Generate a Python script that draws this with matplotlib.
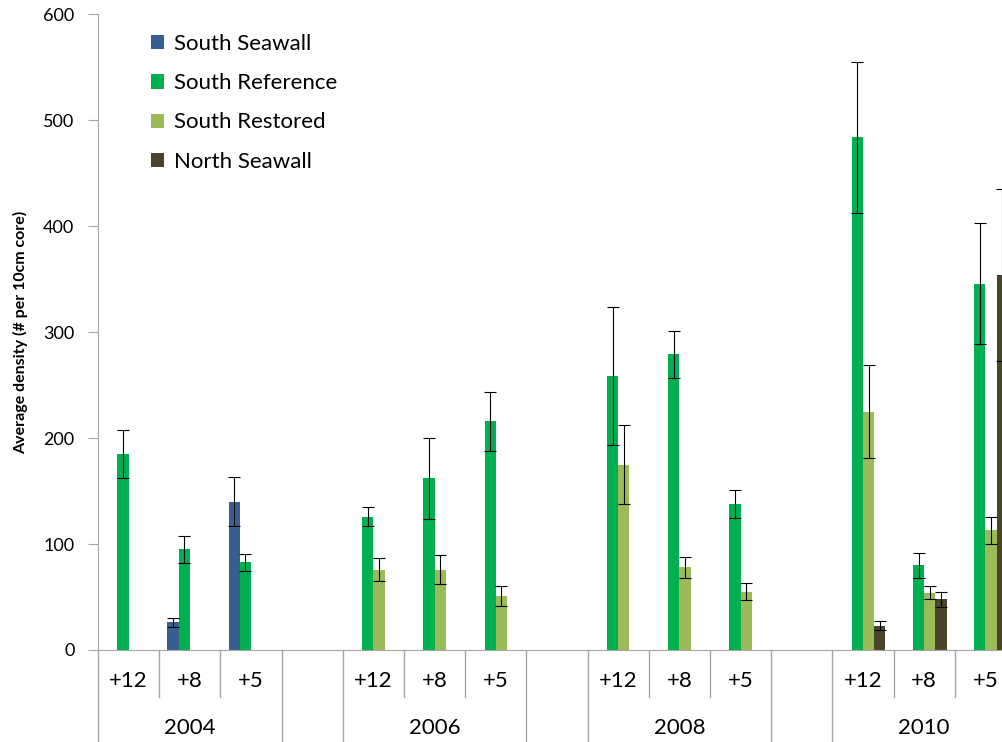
import matplotlib.pyplot as plt
import numpy as np

plt.rcParams['font.family'] = ['Lato', 'DejaVu Sans']

years = ['2004', '2006', '2008', '2010']
depths = ['+12', '+8', '+5']

nan = np.nan
# values per year x depth (2004 +12, +8, +5, 2006 +12, ...)
south_seawall = [nan, 26, 140, nan, nan, nan, nan, nan, nan, nan, nan, nan]
south_seawall_err = [nan, 4, 23, nan, nan, nan, nan, nan, nan, nan, nan, nan]
south_reference = [185, 95, 83, 126, 162, 216, 259, 279, 138, 484, 80, 346]
south_reference_err = [23, 13, 8, 9, 38, 28, 65, 22, 13, 71, 12, 57]
south_restored = [nan, nan, nan, 76, 76, 51, 175, 78, 55, 225, 54, 113]
south_restored_err = [nan, nan, nan, 11, 14, 9, 37, 10, 8, 44, 6, 13]
north_seawall = [nan, nan, nan, nan, nan, nan, nan, nan, nan, 23, 48, 354]
north_seawall_err = [nan, nan, nan, nan, nan, nan, nan, nan, nan, 4, 7, 81]

series = [
    ('South Seawall', south_seawall, south_seawall_err, '#376092'),
    ('South Reference', south_reference, south_reference_err, '#00B050'),
    ('South Restored', south_restored, south_restored_err, '#9BBB59'),
    ('North Seawall', north_seawall, north_seawall_err, '#4A452A'),
]

# category positions: 3 depths per year, one empty slot between years
pos = []
for g in range(len(years)):
    for d in range(len(depths)):
        pos.append(g * 4 + d)
pos = np.array(pos, dtype=float)
ncat = len(years) * 4 - 1

W, H = 1003, 742
fig = plt.figure(figsize=(W / 100, H / 100), dpi=100)
left, right, bottom, top = 98, 98 + ncat * 61.2, 650, 14.5
ax = fig.add_axes([left / W, 1 - bottom / H, (right - left) / W, (bottom - top) / H])

bw = 0.183
for i, (name, vals, errs, col) in enumerate(series):
    x = pos + (i - 1.5) * bw
    ax.bar(x, vals, width=bw, color=col, label=name, edgecolor='none')
    ax.errorbar(x, vals, yerr=errs, fmt='none', ecolor='black', elinewidth=0.8,
                capsize=4, capthick=0.8)

ax.set_xlim(-0.5, ncat - 0.5)
ax.set_ylim(0, 600)
ax.set_yticks(range(0, 601, 100))
ax.tick_params(axis='y', direction='out', length=7, color='#A6A6A6', labelsize=13,
               pad=10)
ax.set_xticks([])
for s in ['top', 'right']:
    ax.spines[s].set_visible(False)
for s in ['left', 'bottom']:
    ax.spines[s].set_color('#A6A6A6')
ax.set_ylabel('Average density (# per 10cm core)', fontsize=11.5, fontweight='bold',
              labelpad=11)

# two-level category axis
tr = ax.get_xaxis_transform()
ah = (bottom - top)
lvl1 = -47 / ah
lvl2 = -100 / ah
for k in range(ncat + 1):
    xb = k - 0.5
    full = (k % 4 == 0) or (k % 4 == 3)
    ax.plot([xb, xb], [0, lvl2 if full else lvl1], transform=tr, color='#A6A6A6',
            lw=1, clip_on=False)
for g, yr in enumerate(years):
    for d, dp in enumerate(depths):
        ax.text(g * 4 + d, -31 / ah, dp, transform=tr, ha='center', va='center',
                fontsize=16)
    ax.text(g * 4 + 1, -78 / ah, yr, transform=tr, ha='center', va='center',
            fontsize=16)

ax.legend(loc='upper left', bbox_to_anchor=(0.048, 0.983), frameon=False,
          fontsize=16, handlelength=0.6, handleheight=0.6, handletextpad=0.45,
          labelspacing=0.86, borderaxespad=0)

plt.savefig('out.png', dpi=100)
